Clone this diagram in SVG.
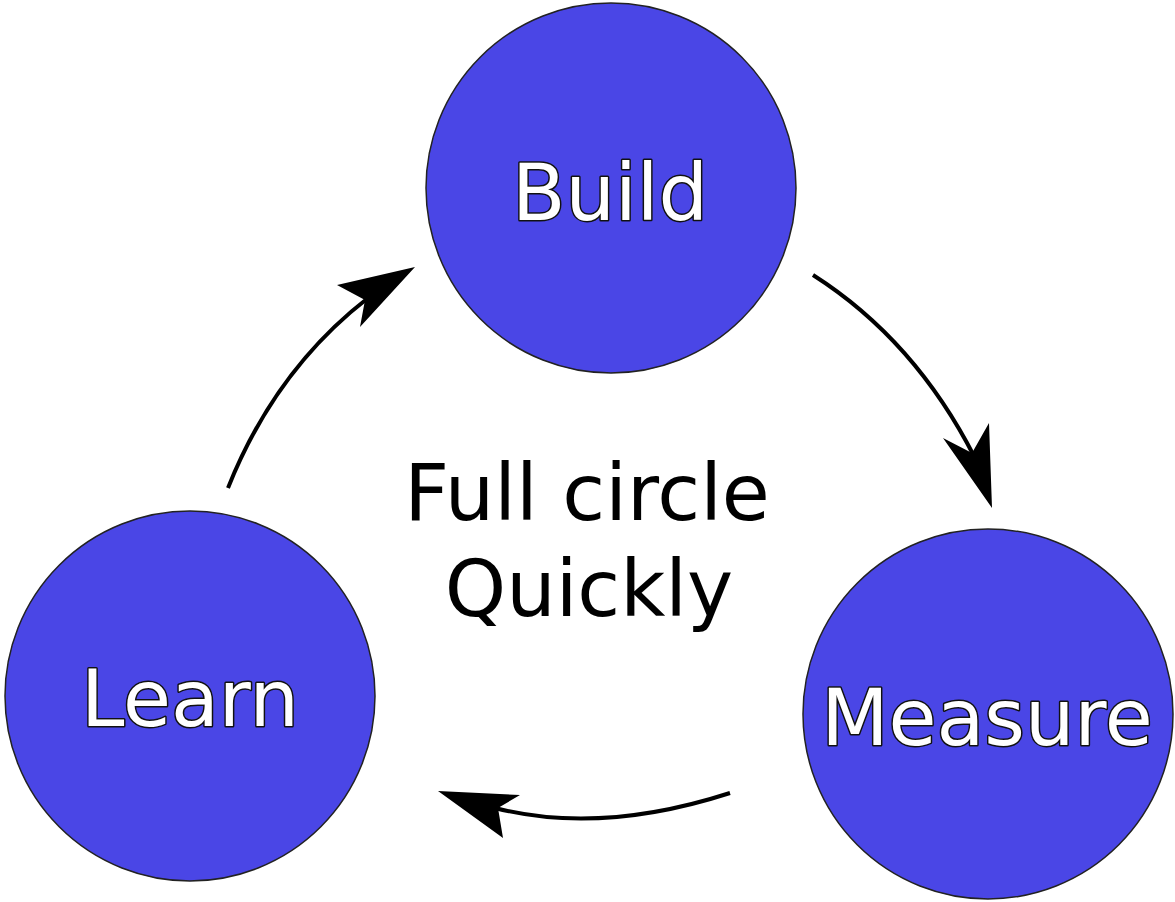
<svg xmlns="http://www.w3.org/2000/svg" width="1175" height="902" viewBox="0 0 1175 902">
  <style>
    .node { fill: #4a46e6; stroke: #222; stroke-width: 1.5; }
    .label { font-family: "DejaVu Sans", sans-serif; font-size: 78px; fill: #fff; stroke: #111; stroke-width: 3; paint-order: stroke; stroke-linejoin: round; text-anchor: middle; }
    .center { font-family: "DejaVu Sans", sans-serif; font-size: 78px; fill: #000; text-anchor: middle; }
    .edge { fill: none; stroke: #000; stroke-width: 4; }
    .head { fill: #000; }
  </style>
  <rect width="1175" height="902" fill="#fff"/>
  <g id="build">
    <circle class="node" cx="611" cy="188" r="185"/>
    <text class="label" x="610" y="220">Build</text>
  </g>
  <g id="measure">
    <circle class="node" cx="988" cy="714" r="185"/>
    <text class="label" x="987" y="745">Measure</text>
  </g>
  <g id="learn">
    <circle class="node" cx="190" cy="696" r="185"/>
    <text class="label" x="190" y="726">Learn</text>
  </g>
  <g id="caption">
    <text class="center" x="587" y="520">Full circle</text>
    <text class="center" x="589" y="616">Quickly</text>
  </g>
  <g id="connectors">
    <path class="edge" d="M813,275 Q915,340 975,458"/>
    <polygon class="head" points="992,508 943,438 972,453 989,423"/>
    <path class="edge" d="M730,793 Q600,835 495,808"/>
    <polygon class="head" points="438,791 520,795 498,808 503,838"/>
    <path class="edge" d="M228,488 Q275,370 368,298"/>
    <polygon class="head" points="415,267 360,327 365,300 337,285"/>
  </g>
</svg>
